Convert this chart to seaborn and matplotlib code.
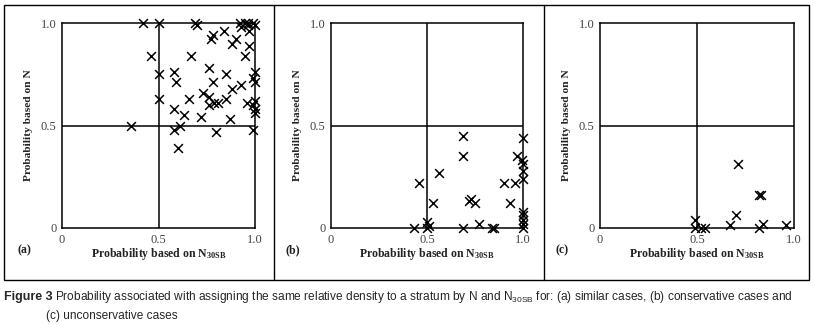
import numpy as np
import pandas as pd
import matplotlib
matplotlib.use("Agg")
import matplotlib.pyplot as plt
from matplotlib.patches import Rectangle
from matplotlib.lines import Line2D
import seaborn as sns

# (a) similar cases
sim_x = [0.42, 0.50, 0.69, 0.70, 0.92, 0.95, 0.965, 0.99, 1.0, 0.965, 0.93, 0.97, 0.84, 0.78,
         0.77, 0.90, 0.88, 0.97, 0.46, 0.67, 0.95, 0.76, 1.0, 0.50, 0.58, 0.85, 0.99, 0.59,
         0.78, 0.93, 1.0, 0.73, 0.88, 0.50, 0.66, 0.76, 0.85, 0.79, 0.81, 0.76, 0.96, 1.0,
         0.99, 1.0, 0.58, 0.63, 0.72, 1.0, 0.36, 0.61, 0.58, 0.87, 0.80, 0.99, 0.60]
sim_y = [1.0, 1.0, 1.0, 0.99, 1.0, 1.0, 1.0, 1.0, 0.99, 0.99, 0.98, 0.96, 0.96, 0.94,
         0.92, 0.92, 0.90, 0.89, 0.84, 0.84, 0.84, 0.78, 0.76, 0.75, 0.76, 0.75, 0.73, 0.71,
         0.71, 0.70, 0.71, 0.66, 0.68, 0.63, 0.63, 0.64, 0.63, 0.61, 0.61, 0.60, 0.61, 0.62,
         0.60, 0.58, 0.58, 0.55, 0.54, 0.56, 0.50, 0.50, 0.48, 0.53, 0.47, 0.48, 0.39]

# (b) conservative cases
con_x = [0.43, 0.46, 0.50, 0.50, 0.51, 0.53, 0.56, 0.69, 0.69, 0.69, 0.72, 0.73, 0.75, 0.77,
         0.84, 0.85, 0.90, 0.93, 0.96, 0.97, 1.0, 0.995, 1.0, 1.0, 1.0, 1.0, 1.0, 1.0, 1.0, 1.0]
con_y = [0.0, 0.22, 0.03, 0.0, 0.01, 0.12, 0.27, 0.45, 0.35, 0.0, 0.13, 0.14, 0.12, 0.02,
         0.0, 0.0, 0.22, 0.12, 0.22, 0.35, 0.44, 0.33, 0.31, 0.28, 0.24, 0.08, 0.065, 0.04, 0.02, 0.0]

# (c) unconservative cases
unc_x = [0.49, 0.49, 0.52, 0.54, 0.67, 0.70, 0.71, 0.82, 0.83, 0.82, 0.84, 0.96]
unc_y = [0.04, 0.0, 0.0, 0.0, 0.015, 0.065, 0.31, 0.16, 0.16, 0.0, 0.02, 0.015]

panel_labels = ["(a)", "(b)", "(c)"]
tick_vals = [0, 0.5, 1.0]
tick_text = ["0", "0.5", "1.0"]

sns.set_style("white")
plt.rcParams["font.family"] = ["Liberation Serif", "DejaVu Serif"]
plt.rcParams["mathtext.default"] = "regular"

W, H = 814, 325
fig = plt.figure(figsize=(W / 100, H / 100), dpi=100)

def fx(px):
    return px / W

def fy(py):
    return 1 - py / H

# outer frame with panel dividers
fig.add_artist(Rectangle((fx(4), fy(280)), fx(809) - fx(4), fy(5) - fy(280),
                         transform=fig.transFigure, fill=False, ec="black", lw=1.0))
for xd in [274, 544]:
    fig.add_artist(Line2D([fx(xd), fx(xd)], [fy(280), fy(5)], transform=fig.transFigure,
                          color="black", lw=1.0))

axes_px = [(62, 255), (331, 523), (600, 794)]
datasets = [(sim_x, sim_y), (con_x, con_y), (unc_x, unc_y)]
top, bottom = 23, 228

for (x0, x1), (xs, ys), lab in zip(axes_px, datasets, panel_labels):
    ax = fig.add_axes([fx(x0), fy(bottom), fx(x1) - fx(x0), fy(top) - fy(bottom)])
    df = pd.DataFrame({"x": xs, "y": ys})
    ax.axhline(0.5, color="black", lw=1.1, zorder=1)
    ax.axvline(0.5, color="black", lw=1.1, zorder=1)
    sns.scatterplot(data=df, x="x", y="y", marker="x", color="black", s=40,
                    linewidth=1.1, clip_on=False, zorder=5, ax=ax)
    ax.set_xlim(0, 1)
    ax.set_ylim(0, 1)
    ax.set_xticks(tick_vals)
    ax.set_xticklabels(tick_text)
    ax.set_yticks(tick_vals)
    ax.set_yticklabels(tick_text)
    ax.tick_params(direction="out", length=2.5, width=1.0, color="black",
                   labelsize=9, labelcolor="#444444")
    ax.tick_params(axis="x", pad=2.0)
    ax.tick_params(axis="y", pad=1.5)
    for sp in ax.spines.values():
        sp.set_visible(True)
        sp.set_color("black")
        sp.set_linewidth(1.1)
    ax.set_xlabel(r"Probability based on N$_{30SB}$", fontsize=8.5, fontweight="bold", color="#222222")
    ax.set_ylabel("Probability based on N", fontsize=8.2, fontweight="bold", color="#222222")
    ax.xaxis.set_label_coords(0.5, -0.09)
    ax.yaxis.set_label_coords(-0.15, 0.5)
    fig.text(fx(x0 - 38), fy(250), lab, fontsize=8.5, fontweight="bold",
             color="#222222", ha="center", va="center")

cap_font = ["Liberation Sans", "DejaVu Sans"]
fig.text(fx(4), fy(297), "Figure 3", fontsize=9.0, fontweight="bold",
         family=cap_font, ha="left", va="center")
fig.text(fx(55), fy(297),
         r"Probability associated with assigning the same relative density to a stratum by N and N$_{30SB}$ for: (a) similar cases, (b) conservative cases and",
         fontsize=8.55, family=cap_font, ha="left", va="center")
fig.text(fx(46), fy(316), "(c) unconservative cases", fontsize=8.55, family=cap_font,
         ha="left", va="center")

plt.savefig("out.png", dpi=100)
